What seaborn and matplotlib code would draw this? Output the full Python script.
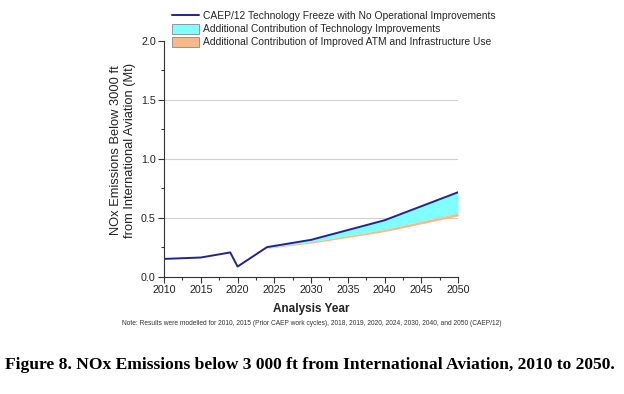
import matplotlib
matplotlib.use("Agg")
import matplotlib.pyplot as plt
from matplotlib.patches import Patch
from matplotlib.lines import Line2D
from matplotlib.ticker import MultipleLocator
import pandas as pd
import seaborn as sns

# --- data ---
years_freeze = [2010, 2015, 2019, 2020, 2024, 2030, 2040, 2050]
freeze = [0.150, 0.162, 0.205, 0.085, 0.250, 0.312, 0.478, 0.716]

years_future = [2024, 2030, 2040, 2050]
freeze_future = [0.250, 0.312, 0.478, 0.716]
tech = [0.245, 0.295, 0.400, 0.540]
atm = [0.240, 0.284, 0.382, 0.515]

labels = [
    "CAEP/12 Technology Freeze with No Operational Improvements",
    "Additional Contribution of Technology Improvements",
    "Additional Contribution of Improved ATM and Infrastructure Use",
]

line_color = "#23238f"
cyan = "#80ffff"
orange = "#f7b98c"

sns.set_style("white")
plt.rcParams["font.family"] = ["Liberation Sans", "DejaVu Sans"]

fig = plt.figure(figsize=(6.24, 3.94), dpi=100)
ax = fig.add_axes([0.263, 0.298, 0.471, 0.598])

df = pd.DataFrame({"year": years_freeze, "nox": freeze})

ax.fill_between(years_future, tech, freeze_future, color=cyan, lw=0)
ax.fill_between(years_future, atm, tech, color=orange, lw=0)
sns.lineplot(data=df, x="year", y="nox", ax=ax, color=line_color, lw=1.4)

ax.set_xlim(2010, 2050)
ax.set_ylim(0, 2.0)
ax.xaxis.set_major_locator(MultipleLocator(5))
ax.xaxis.set_minor_locator(MultipleLocator(2.5))
ax.yaxis.set_major_locator(MultipleLocator(0.5))
ax.yaxis.set_minor_locator(MultipleLocator(0.25))
ax.yaxis.set_major_formatter(plt.FormatStrFormatter("%.1f"))
ax.tick_params(which="major", direction="out", length=4, width=0.8, colors="#333333",
               labelsize=7.7, labelcolor="#222222", left=True, bottom=True, pad=2)
ax.tick_params(which="minor", direction="out", length=2, width=0.8, colors="#333333",
               left=True, bottom=True)
for y in [0.5, 1.0, 1.5]:
    ax.axhline(y, color="#d0d0d0", lw=0.8, zorder=0)
for s in ["top", "right"]:
    ax.spines[s].set_visible(False)
for s in ["left", "bottom"]:
    ax.spines[s].set_color("#333333")
    ax.spines[s].set_linewidth(0.8)

ax.set_xlabel("Analysis Year", fontsize=8.5, fontweight="bold", color="#222222", labelpad=6)
ax.set_ylabel("NOx Emissions Below 3000 ft\nfrom International Aviation (Mt)",
              fontsize=9.3, color="#222222")
ax.yaxis.set_label_coords(-0.095, 0.537)

handles = [
    Line2D([0], [0], color=line_color, lw=1.4),
    Patch(facecolor=cyan, edgecolor="#888888", lw=0.6),
    Patch(facecolor=orange, edgecolor="#888888", lw=0.6),
]
fig.legend(handles, labels, loc="upper left", bbox_to_anchor=(0.268, 0.985),
           frameon=False, fontsize=7.4, handlelength=2.6, handleheight=1.1,
           labelspacing=0.25, handletextpad=0.35, borderpad=0)

fig.text(0.5, 0.18,
         "Note: Results were modelled for 2010, 2015 (Prior CAEP work cycles), 2018, 2019, 2020, 2024, 2030, 2040, and 2050 (CAEP/12)",
         fontsize=4.8, ha="center", va="center", color="#333333")

fig.text(0.008, 0.073,
         "Figure 8. NOx Emissions below 3 000 ft from International Aviation, 2010 to 2050.",
         fontsize=12.6, fontweight="bold", family="Liberation Serif", ha="left", va="center",
         color="black")

fig.savefig("out.png", dpi=100)
